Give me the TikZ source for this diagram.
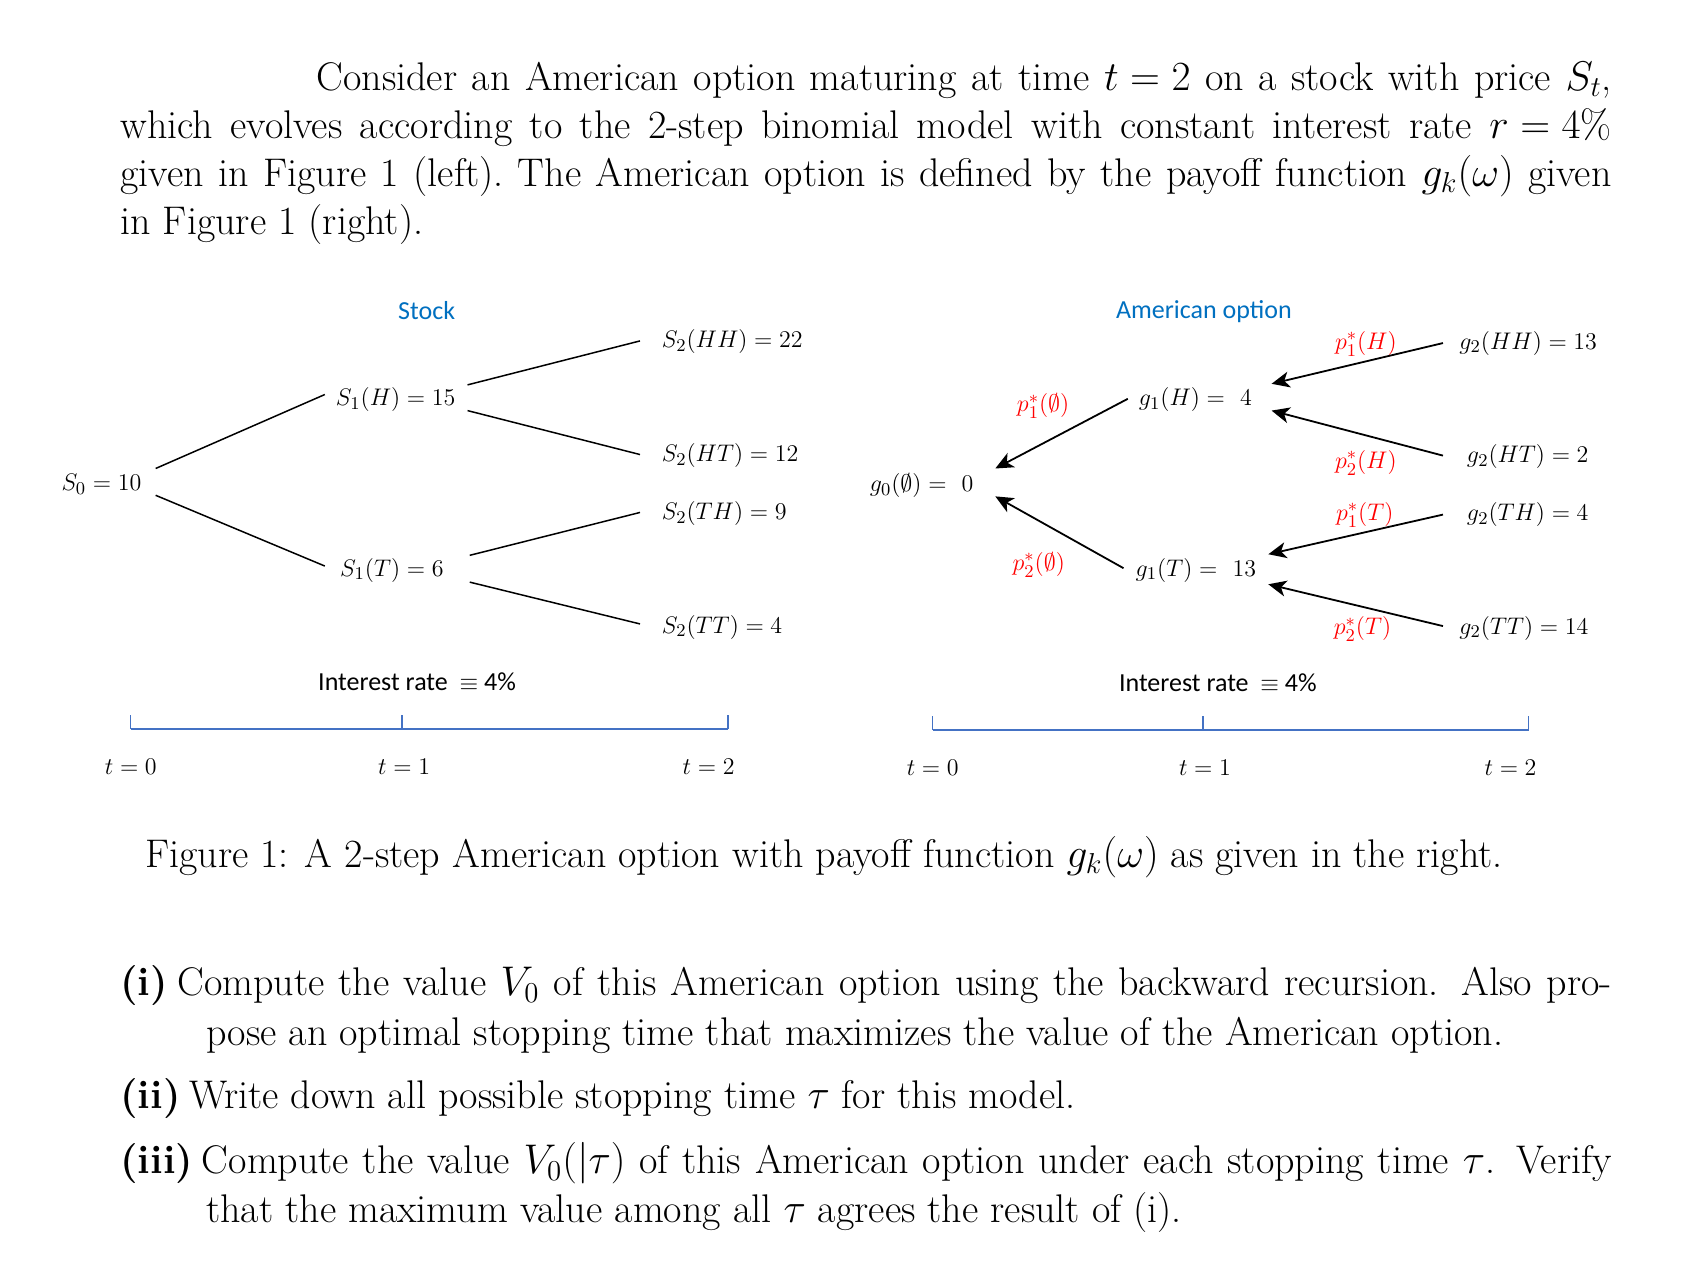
\documentclass[tikz,border=0pt]{standalone}
\usepackage{amsmath,amssymb}
\usepackage{fontspec}
\newfontfamily\calibri{Carlito}
\usetikzlibrary{arrows.meta}
\definecolor{wordblue}{RGB}{0,112,192}
\definecolor{lineblue}{RGB}{68,114,196}
\definecolor{pred}{RGB}{255,0,0}
\newcommand{\fixmu}{\thickmuskip=5mu\medmuskip=4mu}
\tikzset{
  txt/.style={anchor=base west, inner sep=0, font=\fontsize{20}{24}\selectfont\fixmu},
  btxt/.style={txt, font=\fontsize{20}{24}\selectfont\bfseries},
  dm/.style={inner sep=0, font=\fontsize{13}{15}\selectfont},
  dml/.style={dm, anchor=west},
  prob/.style={dm, text=pred},
  title/.style={inner sep=0, font=\fontsize{13}{15}\selectfont\calibri, text=wordblue},
  rate/.style={inner sep=0, font=\fontsize{13}{15}\selectfont\calibri},
  branch/.style={draw=black, line width=0.75pt},
  back/.style={draw=black, line width=0.9pt, -{Stealth[length=9pt,width=8pt,inset=2.5pt]}},
  axis/.style={draw=lineblue, line width=1.2pt},
  tick/.style={draw=lineblue, line width=0.7pt}
}
\begin{document}
\begin{tikzpicture}[x=0.53605pt, y=-0.53605pt]
\fill[white] (0,0) rectangle (1568,1192);
\useasboundingbox (0,0) rectangle (1568,1192);

% ---------- paragraph ----------
\node[txt] (p1) at (295,84) {\makebox[647.6pt][s]{Consider an American option maturing at time $t=2$ on a stock with price $S_t$,}};
\node[txt] (p2) at (112,129) {\makebox[745.6pt][s]{which evolves according to the 2-step binomial model with constant interest rate $r=4\%$}};
\node[txt] (p3) at (112,174) {\makebox[745.6pt][s]{given in Figure 1 (left).\ The American option is defined by the payoff function $g_k(\omega)$ given}};
\node[txt] (p4) at (112,219) {in Figure 1 (right).};

% ---------- left tree ----------
\node[title] (stock) at (398,290) {Stock};
\node[dml] (S0)  at (57,452)  {$S_0=10$};
\node[dml] (S1H) at (313,373) {$S_1(H)=15$};
\node[dml] (S1T) at (317,532) {$S_1(T)=6$};
\node[dml] (HH)  at (617,319) {$S_2(HH)=22$};
\node[dml] (HT)  at (617,425) {$S_2(HT)=12$};
\node[dml] (TH)  at (617,479) {$S_2(TH)=9$};
\node[dml] (TT)  at (617,585) {$S_2(TT)=4$};

\draw[branch] ([shift={(13,-15)}]S0.east) -- ([shift={(-10,-5)}]S1H.west);
\draw[branch] ([shift={(13,10)}]S0.east) -- ([shift={(-14,-4)}]S1T.west);
\draw[branch] ([shift={(11,-14)}]S1H.east) -- ([shift={(-20,-1)}]HH.west);
\draw[branch] ([shift={(11,10)}]S1H.east) -- ([shift={(-20,-1)}]HT.west);
\draw[branch] ([shift={(24,-14)}]S1T.east) -- ([shift={(-20,-1)}]TH.west);
\draw[branch] ([shift={(24,11)}]S1T.east) -- ([shift={(-20,-3)}]TT.west);

\node[rate] (rL) at (389,636) {Interest rate\ \ $\equiv$ 4\%};
\draw[axis] (122,680) -- (679,680);
\draw[tick] (122,667) -- (122,680);
\draw[tick] (375,667) -- (375,680);
\draw[tick] (679,667) -- (679,680);
\node[dm] (tL0) at (122,715) {$t=0$};
\node[dm] (tL1) at (377,715) {$t=1$};
\node[dm] (tL2) at (661,715) {$t=2$};

% ---------- right tree ----------
\node[title] (amer) at (1123,291) {American option};
\node[dml] (g0)   at (811,453)  {$g_0(\emptyset)=\ 0$};
\node[dml] (g1H)  at (1062,373) {$g_1(H)=\ 4$};
\node[dml] (g1T)  at (1059,532) {$g_1(T)=\ 13$};
\node[dml] (g2HH) at (1361,320) {$g_2(HH)=13$};
\node[dml] (g2HT) at (1368,426) {$g_2(HT)=2$};
\node[dml] (g2TH) at (1368,480) {$g_2(TH)=4$};
\node[dml] (g2TT) at (1361,586) {$g_2(TT)=14$};

\node[prob] (q1H) at (1274,321) {$p_1^*(H)$};
\node[prob] (q2H) at (1274,432) {$p_2^*(H)$};
\node[prob] (q1T) at (1273,480) {$p_1^*(T)$};
\node[prob] (q2T) at (1271,587) {$p_2^*(T)$};
\node[prob] (q10) at (973,379)  {$p_1^*(\emptyset)$};
\node[prob] (q20) at (969,527)  {$p_2^*(\emptyset)$};

\draw[back] ([shift={(-15,0)}]g2HH.west) -- ([shift={(18,-15)}]g1H.east);
\draw[back] ([shift={(-22,-1)}]g2HT.west) -- ([shift={(18,10)}]g1H.east);
\draw[back] ([shift={(-22,0)}]g2TH.west) -- ([shift={(11,-15)}]g1T.east);
\draw[back] ([shift={(-15,-2)}]g2TT.west) -- ([shift={(11,13)}]g1T.east);
\draw[back] ([shift={(-10,-1)}]g1H.west) -- ([shift={(20,-16)}]g0.east);
\draw[back] ([shift={(-11,-2)}]g1T.west) -- ([shift={(20,10)}]g0.east);

\node[rate] (rR) at (1136,637) {Interest rate\ \ $\equiv$ 4\%};
\draw[axis] (870,681) -- (1426,681);
\draw[tick] (870,668) -- (870,681);
\draw[tick] (1122,668) -- (1122,681);
\draw[tick] (1426,668) -- (1426,681);
\node[dm] (tR0) at (870,716)  {$t=0$};
\node[dm] (tR1) at (1124,716) {$t=1$};
\node[dm] (tR2) at (1409,716) {$t=2$};

% ---------- caption ----------
\node[txt] (cap) at (135,809) {Figure 1: A 2-step American option with payoff function $g_k(\omega)$ as given in the right.};

% ---------- questions ----------
\node[btxt] (l1) at (112,929) {(i)};
\node[txt] (i1) at (165,929) {\makebox[717.2pt][s]{Compute the value $V_0$ of this American option using the backward recursion. Also pro-}};
\node[txt] (i2) at (192,975) {pose an optimal stopping time that maximizes the value of the American option.};
\node[btxt] (l2) at (112,1034) {(ii)};
\node[txt] (ii1) at (176,1034) {Write down all possible stopping time $\tau$ for this model.};
\node[btxt] (l3) at (112,1095) {(iii)};
\node[txt] (iii1) at (188,1095) {\makebox[704.9pt][s]{Compute the value $V_0(|\tau)$ of this American option under each stopping time $\tau$. Verify}};
\node[txt] (iii2) at (192,1140) {that the maximum value among all $\tau$ agrees the result of (i).};
\end{tikzpicture}
\end{document}
